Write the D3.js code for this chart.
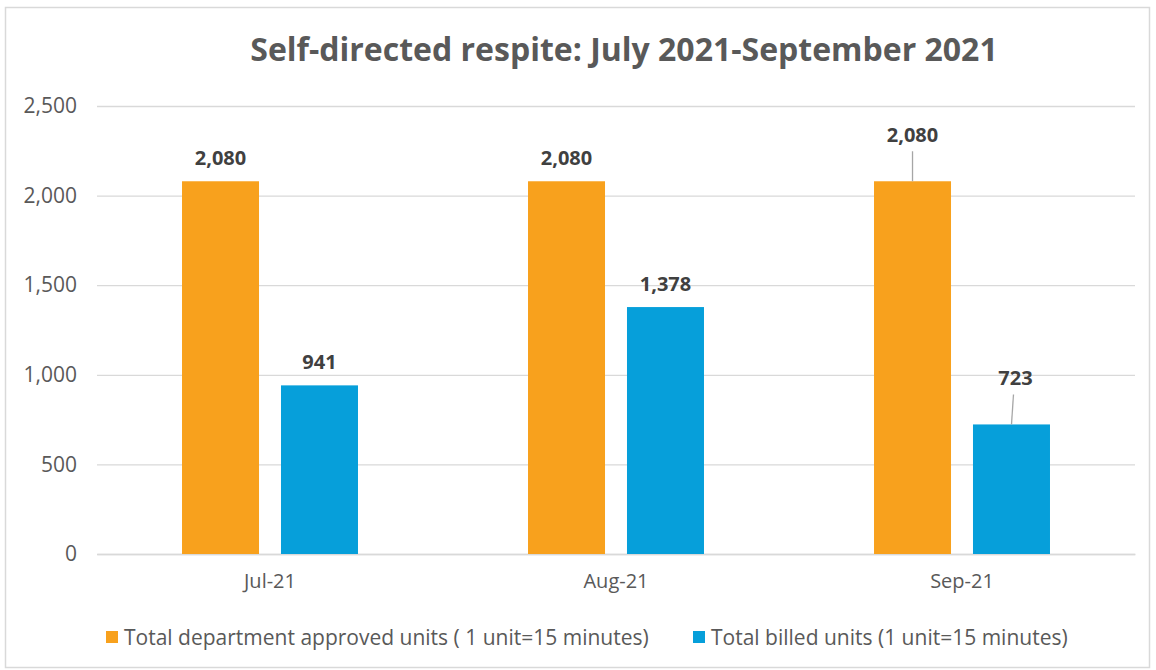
<!DOCTYPE html>
<meta charset="utf-8">
<style>
    body { margin: 0; background: #fff; }
    svg text { font-family: "Open Sans", sans-serif; }
    .tick text { fill: #595959; font-size: 20px; }
    .ylab .tick text { font-size: 21px; }
    .label { fill: #404040; font-size: 20px; font-weight: bold; text-anchor: middle; }
</style>
<svg width="1156" height="670"></svg>
<script src="https://d3js.org/d3.v7.min.js"></script>
<script>

    var months = ["Jul-21", "Aug-21", "Sep-21"];
    var approved = [2080, 2080, 2080];
    var billed = [941, 1378, 723];
    var seriesNames = ["Total department approved units ( 1 unit=15 minutes)", "Total billed units (1 unit=15 minutes)"];
    var colors = ["#F8A11D", "#069FDA"];
    var yTicks = [0, 500, 1000, 1500, 2000, 2500];
    // labels moved up with a leader line: "series-monthIndex"
    var lifted = { "0-2": 23, "1-2": 23 };

    var svg = d3.select("svg"),
        margin = { left: 97, right: 21, top: 106, bottom: 116 },
        width = +svg.attr("width"),
        height = +svg.attr("height");

    svg.append("rect")
        .attr("x", 5.5).attr("y", 7.5)
        .attr("width", 1144).attr("height", 660)
        .attr("fill", "#fff").attr("stroke", "#D9D9D9").attr("stroke-width", 1.5);

    var x = d3.scaleBand().domain(months)
        .range([margin.left, width - margin.right]).paddingInner(0).paddingOuter(0);
    var x1 = d3.scaleBand().domain([0, 1])
        .range([0, x.bandwidth()]).paddingInner(0.222).paddingOuter(0.859);
    var y = d3.scaleLinear().domain([0, 2500]).range([height - margin.bottom, margin.top]);

    // gridlines + y labels
    var yAxis = svg.append("g")
        .attr("class", "ylab")
        .attr("transform", "translate(" + margin.left + ",0)")
        .call(d3.axisLeft(y).tickValues(yTicks).tickFormat(d3.format(","))
            .tickSize(-(width - margin.left - margin.right)).tickPadding(20));
    yAxis.select(".domain").remove();
    yAxis.selectAll(".tick line").attr("stroke", "#D9D9D9").attr("stroke-width", 1.3);

    var xAxis = svg.append("g")
        .attr("transform", "translate(0," + y(0) + ")")
        .call(d3.axisBottom(x).tickSize(0).tickPadding(20));
    xAxis.select(".domain").attr("stroke", "#D9D9D9").attr("stroke-width", 1.3);

    var series = [approved, billed];
    series.forEach(function (vals, s) {
        var g = svg.append("g");
        var cx = function (i) { return x(months[i]) + x1(s) + x1.bandwidth() / 2; };

        g.selectAll("rect").data(vals).enter().append("rect")
            .attr("x", function (d, i) { return x(months[i]) + x1(s); })
            .attr("y", function (d) { return y(d); })
            .attr("width", x1.bandwidth())
            .attr("height", function (d) { return y(0) - y(d); })
            .attr("fill", colors[s]);

        g.selectAll("text").data(vals).enter().append("text")
            .attr("class", "label")
            .attr("x", function (d, i) { return cx(i) + (lifted[s + "-" + i] && s == 1 ? 4 : 0); })
            .attr("y", function (d, i) { return y(d) - 16 - (lifted[s + "-" + i] || 0); })
            .text(function (d) { return d3.format(",")(d); });

        g.selectAll("line").data(vals.map(function (d, i) { return [d, i]; })
            .filter(function (p) { return lifted[s + "-" + p[1]]; }))
            .enter().append("line")
            .attr("x1", function (p) { return cx(p[1]) + (s == 1 ? 2 : 0); })
            .attr("x2", function (p) { return cx(p[1]); })
            .attr("y1", function (p) { return y(p[0]) - 30; })
            .attr("y2", function (p) { return y(p[0]); })
            .attr("stroke", "#A6A6A6").attr("stroke-width", 1.3);
    });

    svg.append("text")
        .attr("x", 624).attr("y", 61)
        .attr("text-anchor", "middle")
        .attr("fill", "#595959")
        .style("font-size", "32px").style("font-weight", "bold")
        .text("Self-directed respite: July 2021-September 2021");

    var legendX = [106, 693];
    var legend = svg.selectAll(".legend").data(seriesNames).enter().append("g")
        .attr("transform", function (d, i) { return "translate(" + legendX[i] + ",631)"; });
    legend.append("rect").attr("width", 12).attr("height", 12)
        .attr("fill", function (d, i) { return colors[i]; });
    legend.append("text").attr("x", 18).attr("y", 13.5)
        .attr("fill", "#595959").style("font-size", "21px")
        .text(function (d) { return d; });

</script>
